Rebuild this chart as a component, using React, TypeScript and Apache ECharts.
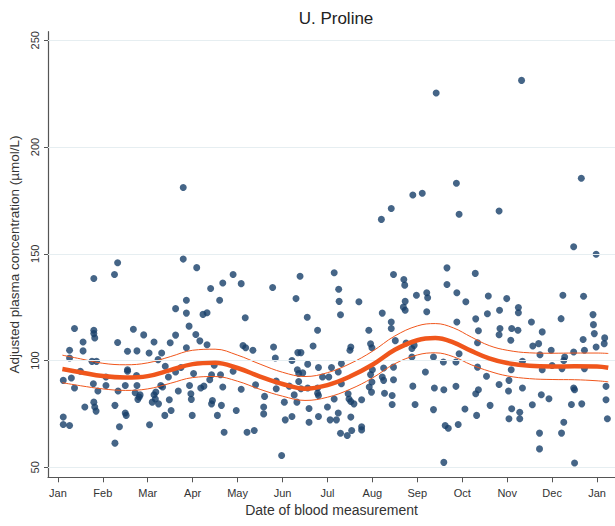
import React, { useEffect, useRef } from "react";
import * as echarts from "echarts";

const monthLabels = ["Jan", "Feb", "Mar", "Apr", "May", "Jun", "Jul", "Aug", "Sep", "Oct", "Nov", "Dec", "Jan"];
const monthTicks = [0, 1, 2, 3, 4, 5, 6, 7, 8, 9, 10, 11, 12];
const yTicks = [50, 100, 150, 200, 250];

// measurement date (months since 1 Jan) and adjusted concentration
const measMonth = [
  0.12, 0.12, 0.12, 0.26, 0.26, 0.26, 0.30, 0.37, 0.37, 0.50, 0.56, 0.56, 0.60, 0.76, 0.80, 0.80, 0.82, 0.80, 0.79, 0.80,
  0.82, 0.85, 0.86, 0.89, 1.07, 1.07, 1.26, 1.33, 1.27, 1.27, 1.33, 1.34, 1.37, 1.50, 1.50, 1.52, 1.55, 1.55, 1.55, 1.68,
  1.72, 1.75, 1.76, 1.78, 1.81, 1.83, 1.76, 1.91, 2.03, 2.04, 2.10, 2.14, 2.14, 2.17, 2.18, 2.23, 2.24, 2.29, 2.31, 2.33,
  2.38, 2.39, 2.46, 2.48, 2.50, 2.52, 2.62, 2.62, 2.62, 2.68, 2.74, 2.79, 2.79, 2.86, 2.86, 2.86, 2.92, 2.93, 2.96, 2.97,
  2.99, 3.02, 3.07, 3.09, 3.16, 3.18, 3.23, 3.25, 3.32, 3.32, 3.38, 3.40, 3.42, 3.42, 3.44, 3.48, 3.55, 3.60, 3.62, 3.64,
  3.67, 3.67, 3.70, 3.90, 3.90, 3.97, 4.08, 4.08, 4.12, 4.17, 4.18, 4.21, 4.34, 4.37, 4.40, 4.58, 4.58, 4.60, 4.78, 4.80,
  4.84, 4.86, 4.86, 4.98, 5.04, 5.06, 5.15, 5.21, 5.21, 5.26, 5.30, 5.32, 5.33, 5.34, 5.36, 5.36, 5.39, 5.41, 5.41, 5.45,
  5.55, 5.56, 5.56, 5.59, 5.59, 5.68, 5.78, 5.78, 5.78, 5.80, 5.80, 5.80, 5.89, 6.00, 6.03, 6.06, 6.09, 6.15, 6.15, 6.20,
  6.24, 6.24, 6.25, 6.26, 6.29, 6.29, 6.31, 6.31, 6.44, 6.46, 6.48, 6.50, 6.52, 6.52, 6.52, 6.54, 6.59, 6.70, 6.76, 6.76,
  6.76, 6.92, 6.93, 6.96, 6.96, 6.98, 6.99, 6.99, 7.00, 7.20, 7.22, 7.22, 7.25, 7.25, 7.27, 7.42, 7.42, 7.42, 7.44, 7.44,
  7.47, 7.47, 7.47, 7.51, 7.69, 7.70, 7.72, 7.73, 7.73, 7.75, 7.88, 7.88, 7.90, 7.90, 7.93, 7.95, 7.98, 8.11, 8.18, 8.21,
  8.21, 8.23, 8.36, 8.36, 8.38, 8.42, 8.58, 8.59, 8.59, 8.62, 8.66, 8.66, 8.69, 8.86, 8.86, 8.87, 8.88, 8.88, 8.91, 8.93,
  8.93, 9.06, 9.08, 9.29, 9.30, 9.30, 9.32, 9.34, 9.34, 9.36, 9.36, 9.54, 9.56, 9.58, 9.62, 9.82, 9.82, 9.82, 9.83, 9.84,
  9.99, 10.03, 10.04, 10.04, 10.08, 10.09, 10.10, 10.10, 10.24, 10.25, 10.25, 10.28, 10.28, 10.32, 10.34, 10.34, 10.54, 10.56, 10.57, 10.70,
  10.72, 10.72, 10.73, 10.76, 10.78, 10.78, 10.93, 10.98, 11.00, 11.20, 11.21, 11.22, 11.24, 11.26, 11.26, 11.28, 11.43, 11.48, 11.48, 11.48,
  11.50, 11.50, 11.65, 11.66, 11.69, 11.70, 11.72, 11.72, 11.91, 11.92, 11.94, 11.98, 11.98, 12.16, 12.17, 12.20, 12.20, 12.23,
];
const measConc = [
  90.7, 73.5, 70.0, 69.6, 104.8, 101.2, 91.8, 87.1, 115.0, 95.0, 108.7, 104.5, 78.2, 99.6, 114.2, 112.6, 110.6, 138.4, 89.1, 80.5,
  78.2, 76.3, 99.6, 85.7, 92.3, 88.3, 140.3, 145.8, 79.0, 61.3, 108.4, 85.7, 69.0, 88.3, 75.4, 74.3, 104.3, 95.7, 95.0, 114.6,
  84.9, 93.0, 88.3, 81.8, 82.9, 83.9, 104.5, 112.0, 103.5, 69.9, 80.5, 108.7, 84.0, 82.0, 85.2, 100.4, 79.7, 88.3, 103.5, 87.6,
  74.3, 97.3, 92.3, 81.6, 108.3, 76.6, 124.3, 94.6, 111.9, 85.7, 96.7, 181.0, 147.5, 128.2, 122.2, 106.0, 116.1, 88.3, 84.4, 81.8,
  74.3, 93.9, 112.2, 143.5, 109.2, 87.1, 121.6, 88.0, 122.4, 107.4, 91.0, 133.7, 79.7, 93.3, 81.3, 97.8, 74.3, 128.2, 93.3, 79.0,
  136.3, 87.6, 66.4, 140.3, 95.0, 76.6, 136.0, 86.5, 107.0, 120.0, 106.0, 66.4, 104.8, 67.2, 88.6, 78.2, 75.0, 83.2, 134.2, 106.3,
  101.2, 90.4, 86.8, 55.5, 80.5, 72.2, 88.0, 100.0, 73.8, 83.9, 129.0, 80.5, 95.7, 103.7, 93.9, 90.2, 139.5, 103.7, 86.8, 94.2,
  120.3, 98.3, 87.1, 77.5, 71.1, 106.8, 114.2, 87.1, 84.7, 96.7, 83.6, 73.8, 92.3, 78.2, 92.3, 72.2, 96.7, 141.1, 82.0, 72.2,
  75.4, 94.6, 133.4, 127.7, 121.4, 65.9, 98.6, 89.1, 64.9, 84.4, 82.0, 104.8, 106.3, 80.8, 73.5, 67.2, 79.7, 127.5, 81.6, 69.0,
  67.5, 114.2, 87.6, 107.8, 93.4, 85.2, 106.0, 89.9, 95.7, 166.1, 122.2, 92.3, 96.5, 90.7, 84.7, 171.2, 118.0, 115.0, 83.6, 79.4,
  140.3, 96.9, 91.0, 109.3, 125.0, 137.9, 135.3, 123.5, 127.7, 108.2, 105.6, 101.6, 88.0, 177.5, 107.1, 79.4, 130.6, 178.3, 94.6, 131.7,
  122.8, 129.4, 101.6, 77.0, 87.1, 225.3, 99.3, 86.3, 52.3, 69.6, 143.4, 135.6, 68.3, 87.9, 99.3, 183.0, 131.7, 118.0, 70.0, 168.5,
  103.2, 77.3, 127.5, 140.8, 119.5, 84.4, 74.3, 108.3, 96.9, 113.9, 86.3, 92.6, 121.9, 130.2, 79.0, 170.0, 88.8, 112.1, 123.5, 115.0,
  129.0, 85.7, 90.7, 72.7, 109.5, 95.7, 115.0, 77.4, 114.2, 124.8, 122.4, 75.8, 72.7, 231.2, 99.6, 87.1, 118.0, 79.3, 106.8, 107.9,
  66.0, 58.6, 102.7, 84.0, 113.4, 95.7, 82.1, 104.8, 97.7, 119.6, 66.0, 96.2, 130.6, 100.0, 71.1, 101.6, 79.4, 153.3, 104.0, 87.1,
  86.3, 52.0, 185.4, 79.7, 109.8, 130.1, 104.8, 96.2, 121.5, 116.8, 112.6, 149.8, 106.3, 107.9, 110.6, 87.9, 81.6, 72.7,
];

// fitted seasonal curve and 95% confidence band
const fitMonth = [0.1, 0.5, 1.0, 1.5, 2.0, 2.5, 3.0, 3.5, 4.0, 4.5, 5.0, 5.5, 6.0, 6.5, 7.0, 7.5, 8.0, 8.4, 8.8, 9.2, 9.6, 10.0, 10.5, 11.0, 11.5, 12.0, 12.25];
const fitMid = [96.0, 94.5, 92.7, 92.0, 92.7, 95.5, 98.3, 99.0, 96.5, 92.5, 89.0, 86.8, 88.5, 92.5, 98.0, 105.0, 109.5, 110.5, 108.5, 104.5, 101.0, 98.8, 97.5, 97.2, 97.3, 97.2, 96.6];
const fitUpper = [102.5, 100.8, 98.7, 98.0, 98.9, 101.8, 104.8, 105.3, 102.5, 98.3, 94.5, 92.5, 94.3, 98.5, 104.3, 111.5, 116.2, 117.3, 115.3, 111.0, 107.0, 104.8, 103.6, 103.4, 103.5, 103.5, 103.3];
const fitLower = [89.6, 88.2, 86.7, 86.0, 86.7, 89.3, 92.0, 92.5, 90.3, 86.5, 83.3, 81.3, 82.8, 86.5, 91.8, 98.5, 102.6, 103.6, 101.8, 98.0, 95.0, 92.8, 91.5, 91.1, 91.0, 90.5, 90.0];

const FONT = "Liberation Sans, Arial, Helvetica, sans-serif";

export default function App() {
  const ref = useRef<HTMLDivElement>(null);
  useEffect(() => {
    if (!ref.current) return;
    const chart = echarts.init(ref.current, undefined, { renderer: "svg" });
    const pts = measMonth.map((m, i) => [m, measConc[i]]);
    const line = (ys: number[]) => fitMonth.map((m, i) => [m, ys[i]]);
    const orange = "#f0561c";
    chart.setOption({
      animation: false,
      backgroundColor: "#ffffff",
      textStyle: { fontFamily: FONT },
      title: {
        text: "U. Proline",
        left: 331,
        textAlign: "center",
        top: 5,
        textStyle: { fontFamily: FONT, fontSize: 17, fontWeight: "normal", color: "#222" },
      },
      grid: { left: 48, right: 0, top: 31.7, bottom: 48.7, outerBoundsMode: "none" },
      xAxis: {
        type: "value",
        min: -0.22,
        max: 12.4,
        name: "Date of blood measurement",
        nameLocation: "middle",
        nameGap: 26,
        nameTextStyle: { fontFamily: FONT, fontSize: 14, color: "#333" },
        axisLine: { show: true, onZero: false, lineStyle: { color: "#555", width: 1.2 } },
        axisTick: { show: true, length: 5, customValues: monthTicks, lineStyle: { color: "#555" } },
        axisLabel: {
          customValues: monthTicks,
          formatter: (v: number) => monthLabels[Math.round(v)] ?? "",
          fontFamily: FONT,
          fontSize: 11,
          color: "#333",
          margin: 10,
        },
        splitLine: { show: false },
      },
      yAxis: {
        type: "value",
        min: 45.3,
        max: 254,
        name: "Adjusted plasma concentration (µmol/L)",
        nameLocation: "middle",
        nameGap: 24,
        nameRotate: 90,
        nameTextStyle: { fontFamily: FONT, fontSize: 13.5, color: "#333" },
        axisLine: { show: true, onZero: false, lineStyle: { color: "#555", width: 1.2 } },
        axisTick: { show: true, length: 4, customValues: yTicks, lineStyle: { color: "#555" } },
        axisLabel: {
          customValues: yTicks,
          rotate: 90,
          fontFamily: FONT,
          fontSize: 11,
          color: "#333",
          margin: 8,
        },
        splitLine: { show: false },
      },
      series: [
        {
          type: "line",
          data: [],
          silent: true,
          markLine: {
            silent: true,
            symbol: ["none", "none"],
            label: { show: false },
            lineStyle: { color: "#e6eef1", width: 1, type: "solid" },
            data: yTicks.map((v) => ({ yAxis: v })),
          },
        },
        {
          type: "scatter",
          data: pts,
          symbol: "circle",
          symbolSize: 7,
          itemStyle: { color: "#173f69" },
          z: 3,
        },
        {
          type: "line",
          data: line(fitUpper),
          smooth: 0.4,
          symbol: "none",
          lineStyle: { color: orange, width: 1 },
          z: 4,
        },
        {
          type: "line",
          data: line(fitLower),
          smooth: 0.4,
          symbol: "none",
          lineStyle: { color: orange, width: 1 },
          z: 4,
        },
        {
          type: "line",
          data: line(fitMid),
          smooth: 0.4,
          symbol: "none",
          lineStyle: { color: orange, width: 4.5 },
          z: 5,
        },
      ],
    });
    return () => chart.dispose();
  }, []);
  return (
    <div
      ref={ref}
      style={{ position: "fixed", left: 0, top: 0, width: 615, height: 526, background: "#fff" }}
    />
  );
}
